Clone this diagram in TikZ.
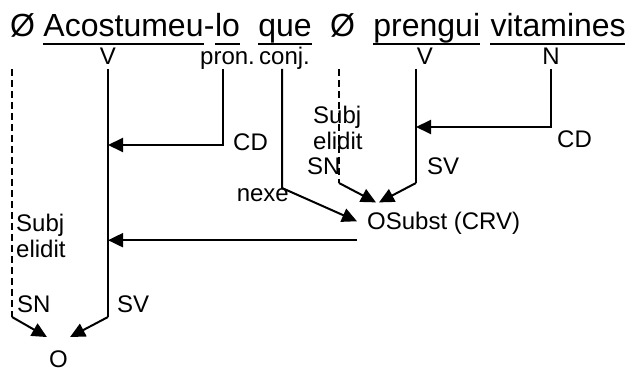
\documentclass[tikz,border=0pt]{standalone}
\usepackage{fontspec}
\setmainfont{Liberation Sans}
\usetikzlibrary{arrows.meta, positioning}
\tikzset{
	word/.style={
		inner sep=0pt,
		text height=23pt,
		text depth=7pt,
		font=\fontsize{32}{38}\selectfont
	},
	lbl/.style={
		inner sep=0pt,
		font=\fontsize{24}{26}\selectfont
	},
	uline/.style={line width=2.6pt},
	link/.style={line width=2pt},
	arrow/.style={line width=2pt, -{Triangle[length=15pt, width=14pt]}},
	elided/.style={line width=1.3pt, dash pattern=on 7pt off 4pt}
}

\begin{document}
\begin{tikzpicture}[x=1pt, y=-1pt]
	\useasboundingbox (0,0) rectangle (625,374);
	% sentence
	\node (nul1) [word, anchor=base west] at (10,37) {Ø};
	\node (acost) [word, right=8pt of nul1] {Acostumeu};
	\node (hyph) [word, right=0pt of acost] {-};
	\node (lo) [word, right=0pt of hyph] {lo};
	\node (que) [word, right=18pt of lo] {que};
	\node (nul2) [word, right=18pt of que] {Ø};
	\node (prengui) [word, right=18pt of nul2] {prengui};
	\node (vitam) [word, right=10pt of prengui] {vitamines};
	\foreach \w in {acost, lo, que, prengui, vitam}
		\draw [uline] (\w.south west) -- (\w.south east);
	
	% categories
	\node (catV1) [lbl, anchor=base] at (108,65) {V};
	\node (pron) [lbl, anchor=base west] at (200,65) {pron.};
	\node (conj) [lbl, anchor=base west] at (259,65) {conj.};
	\node (catV2) [lbl, anchor=base] at (425,65) {V};
	\node (catN) [lbl, anchor=base] at (551,65) {N};
	
	% functions
	\node (cd1) [lbl, anchor=base west] at (233,151) {CD};
	\node (cd2) [lbl, anchor=base west] at (557,148) {CD};
	\node (nexe) [lbl, anchor=base east] at (289,202) {nexe};
	\node (subj2) [lbl, align=left, anchor=north west] at (313,106) {Subj\\elidit};
	\node (sn2) [lbl, anchor=base west] at (307,175) {SN};
	\node (sv2) [lbl, anchor=base west] at (427,175) {SV};
	\node (subj1) [lbl, align=left, anchor=north west] at (16,214) {Subj\\elidit};
	\node (sn1) [lbl, anchor=base west] at (17,313) {SN};
	\node (sv1) [lbl, anchor=base west] at (117,313) {SV};
	\node (osub) [lbl, inner sep=10pt, text depth=0pt, anchor=base west] at (357,230) {OSubst (CRV)};
	\node (ofin) [lbl, inner xsep=2pt, inner ysep=14pt, anchor=base] at (58.5,368) {O};
	
	% bends
	\coordinate (s1top) at (12,69);
	\coordinate (s1bot) at (12,317);
	\coordinate (v1top) at (108,69);
	\coordinate (v1bot) at (108,317);
	\coordinate (ptop) at (223,69);
	\coordinate (pbend) at (223,145);
	\coordinate (ctop) at (282,69);
	\coordinate (cbend) at (282,188);
	\coordinate (s2top) at (339,69);
	\coordinate (s2bot) at (339,183);
	\coordinate (v2top) at (416,69);
	\coordinate (v2bot) at (416,183);
	\coordinate (ntop) at (551,69);
	\coordinate (nbend) at (551,127);
	
	% subordinate clause
	\draw [elided] (s2top) -- (s2bot);
	\draw [arrow] (s2bot) -- ([xshift=19pt]osub.north west);
	\draw [link] (v2top) -- (v2bot);
	\draw [arrow] (v2bot) -- ([xshift=22pt]osub.north west);
	\draw [arrow] (ntop) -- (nbend) -- (nbend -| v2top);
	\draw [arrow] (ctop) -- (cbend) -- (osub.west);
	
	% main clause
	\draw [arrow] (ptop) -- (pbend) -- (pbend -| v1top);
	\draw [arrow] (osub.south west) -- (osub.south west -| v1top);
	\draw [elided] (s1top) -- (s1bot);
	\draw [arrow] (s1bot) -- (ofin.north west);
	\draw [link] (v1top) -- (v1bot);
	\draw [arrow] (v1bot) -- (ofin.north east);
\end{tikzpicture}
\end{document}
